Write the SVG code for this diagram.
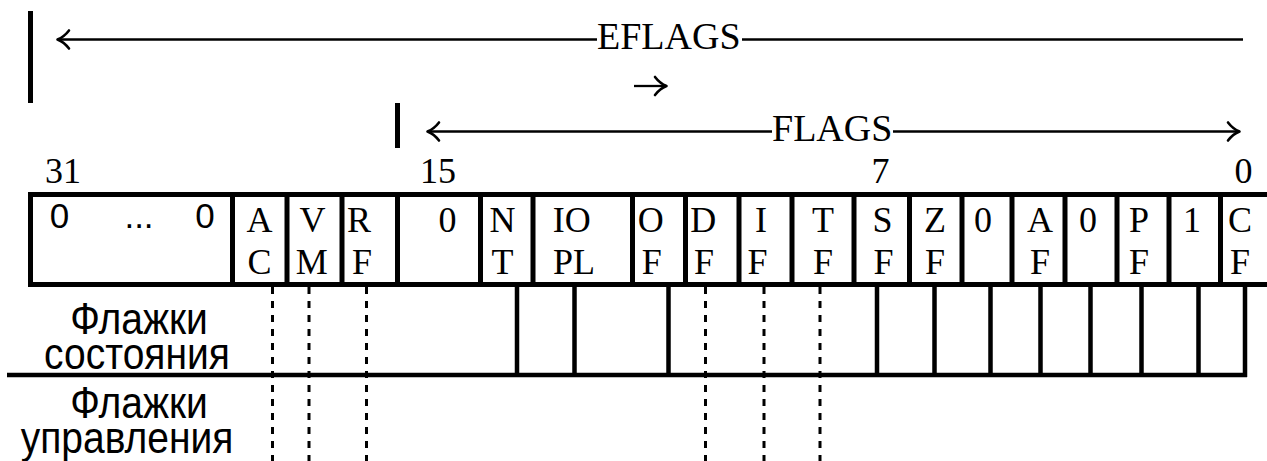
<svg xmlns="http://www.w3.org/2000/svg" width="1267" height="461" viewBox="0 0 1267 461">
  <style>
    .serif { font-family: "Liberation Serif", "Times New Roman", serif; fill: #000; }
    .big { font-size: 38px; }
    .num { font-size: 36px; }
    .cell { font-size: 36px; text-anchor: middle; }
    .sans { font-family: "Liberation Sans", Arial, sans-serif; fill: #000; }
    .legend { font-size: 39px; text-anchor: middle; }
    .bar { stroke: #000; stroke-width: 5; fill: none; }
    .rule { stroke: #000; stroke-width: 2.3; fill: none; }
    .head { stroke: #000; stroke-width: 2.6; fill: none; stroke-linecap: round; stroke-linejoin: round; }
    .frame { stroke: #000; stroke-width: 5; fill: none; }
    .solid { stroke: #000; stroke-width: 4.5; fill: none; }
    .dash { stroke: #000; stroke-width: 3; stroke-dasharray: 7 7; fill: none; }
  </style>

  <!-- EFLAGS span (bits 31..0) -->
  <g id="eflags-span">
    <line class="bar" x1="30.5" y1="11" x2="30.5" y2="103"/>
    <path class="head" d="M69 30.5Q64 37 57.5 39.5Q64 42 69 48.5"/>
    <line class="rule" x1="58" y1="39.5" x2="597" y2="39.5"/>
    <text class="serif big" x="597" y="49">EFLAGS</text>
    <line class="rule" x1="742" y1="39.5" x2="1243" y2="39.5"/>
    <!-- wrapped tail of the span -->
    <line class="rule" x1="634" y1="86" x2="666" y2="86"/>
    <path class="head" d="M655 77Q660 83.5 666.5 86Q660 88.5 655 95"/>
  </g>

  <!-- FLAGS span (bits 15..0) -->
  <g id="flags-span">
    <line class="bar" x1="397.5" y1="103" x2="397.5" y2="148"/>
    <path class="head" d="M439 122.5Q434 129 427.5 131.5Q434 134 439 140.5"/>
    <line class="rule" x1="428" y1="131.5" x2="772" y2="131.5"/>
    <text class="serif big" x="772" y="141">FLAGS</text>
    <line class="rule" x1="893" y1="131.5" x2="1239" y2="131.5"/>
    <path class="head" d="M1228 122.5Q1233 129 1239.5 131.5Q1233 134 1228 140.5"/>
  </g>

  <!-- bit numbers -->
  <g id="bit-numbers" class="serif num">
    <text x="45" y="183">31</text>
    <text x="420" y="183">15</text>
    <text x="880.5" y="183" text-anchor="middle">7</text>
    <text x="1243.5" y="183" text-anchor="middle">0</text>
  </g>

  <!-- register frame -->
  <g id="register">
    <line class="frame" x1="28" y1="194.5" x2="1267" y2="194.5"/>
    <line class="frame" x1="28" y1="284.5" x2="1267" y2="284.5"/>
    <line class="frame" x1="30.5" y1="192" x2="30.5" y2="287"/>
    <path class="frame" d="M232.5 192V287M287 192V287M342 192V287M397.5 192V287M480.5 192V287M533 192V287M632.5 192V287M685.5 192V287M739 192V287M792 192V287M854 192V287M909.5 192V287M962 192V287M1012 192V287M1065 192V287M1117 192V287M1169 192V287M1220.5 192V287"/>
  </g>

  <!-- register cells -->
  <g id="cell-reserved" class="sans" font-size="35" text-anchor="middle">
    <text x="59.5" y="228">0</text>
    <text x="139" y="228">...</text>
    <text x="205" y="228">0</text>
  </g>
  <g id="cell-ac" class="serif cell"><text x="259.5" y="231.5">A</text><text x="259.5" y="274">C</text></g>
  <g id="cell-vm" class="serif cell"><text x="312.5" y="231.5">V</text><text x="311.7" y="274">M</text></g>
  <g id="cell-rf" class="serif cell"><text x="359" y="231.5">R</text><text x="362" y="274">F</text></g>
  <g id="cell-b15" class="serif cell"><text x="447.5" y="231.5">0</text></g>
  <g id="cell-nt" class="serif cell"><text x="502.5" y="231.5">N</text><text x="502.5" y="274">T</text></g>
  <g id="cell-iopl" class="serif cell"><text x="571.7" y="231.5">IO</text><text x="574" y="274">PL</text></g>
  <g id="cell-of" class="serif cell"><text x="650.8" y="231.5">O</text><text x="651.7" y="274">F</text></g>
  <g id="cell-df" class="serif cell"><text x="703.3" y="231.5">D</text><text x="704" y="274">F</text></g>
  <g id="cell-if" class="serif cell"><text x="761" y="231.5">I</text><text x="757.5" y="274">F</text></g>
  <g id="cell-tf" class="serif cell"><text x="823" y="231.5">T</text><text x="823" y="274">F</text></g>
  <g id="cell-sf" class="serif cell"><text x="882.5" y="231.5">S</text><text x="883.5" y="274">F</text></g>
  <g id="cell-zf" class="serif cell"><text x="935" y="231.5">Z</text><text x="935" y="274">F</text></g>
  <g id="cell-b5" class="serif cell"><text x="983" y="231.5">0</text></g>
  <g id="cell-af" class="serif cell"><text x="1040" y="231.5">A</text><text x="1040" y="274">F</text></g>
  <g id="cell-b3" class="serif cell"><text x="1088" y="231.5">0</text></g>
  <g id="cell-pf" class="serif cell"><text x="1139" y="231.5">P</text><text x="1139" y="274">F</text></g>
  <g id="cell-b1" class="serif cell"><text x="1192" y="231.5">1</text></g>
  <g id="cell-cf" class="serif cell"><text x="1240" y="231.5">C</text><text x="1240" y="274">F</text></g>

  <!-- connectors: status flags (solid) and control flags (dashed) -->
  <g id="connectors">
    <line class="solid" x1="7" y1="375" x2="1247" y2="375"/>
    <path class="solid" d="M517 286V377M574.5 286V377M668.5 286V377M877 286V377M934.5 286V377M990.5 286V377M1040.5 286V377M1090.5 286V377M1141.5 286V377M1198.5 286V377M1245 286V377"/>
    <path class="dash" d="M272.5 287V461M309 287V461M366.5 287V461M705.5 287V461M764 287V461M820 287V461"/>
  </g>

  <!-- group captions, two lines each; glyphs drawn slightly taller than wide -->
  <g id="caption-status" class="sans legend">
    <text transform="scale(1 1.15)"><tspan x="139" y="290.4">Флажки</tspan><tspan x="137" y="320.9">состояния</tspan></text>
  </g>
  <g id="caption-control" class="sans legend">
    <text transform="scale(1 1.15)"><tspan x="139" y="363.5">Флажки</tspan><tspan x="127" y="393.9">управления</tspan></text>
  </g>
</svg>
